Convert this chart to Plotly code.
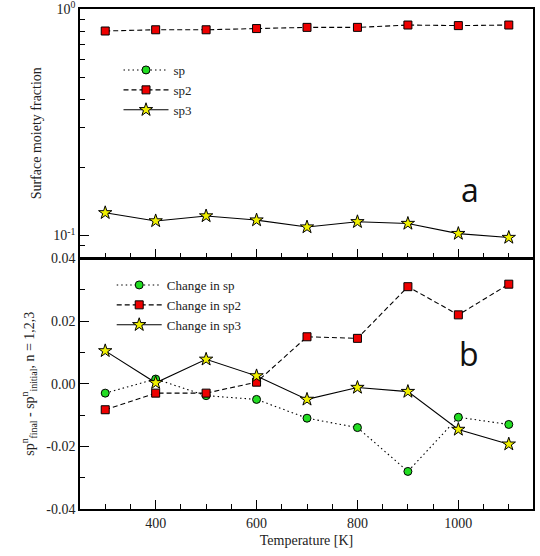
import plotly.graph_objects as go

# Annealing temperatures [K]
temperature = [300, 400, 500, 600, 700, 800, 900, 1000, 1100]

# Panel a: surface moiety fractions (log scale)
frac_sp2 = [0.80, 0.81, 0.81, 0.82, 0.83, 0.83, 0.85, 0.845, 0.85]
frac_sp3 = [0.126, 0.116, 0.122, 0.117, 0.109, 0.115, 0.113, 0.102, 0.098]

# Panel b: change of each moiety fraction relative to the initial state
delta_sp = [-0.003, 0.0015, -0.0038, -0.005, -0.011, -0.014, -0.028, -0.0107, -0.013]
delta_sp2 = [-0.0083, -0.003, -0.003, 0.0005, 0.015, 0.0145, 0.031, 0.022, 0.0318]
delta_sp3 = [0.0105, 0.0003, 0.0078, 0.0025, -0.005, -0.0012, -0.0025, -0.0146, -0.0193]

SERIF = "Liberation Serif"
LINE_W = 1.1

styles = {
    "sp": dict(dash="1.5px,3px", symbol="circle", color="#22dd22", size=8),
    "sp2": dict(dash="5px,3px", symbol="square", color="#ee0000", size=8),
    "sp3": dict(dash="solid", symbol="star", color="#f0f000", size=10),
}


def trace(x, y, key, name, xa, ya, legend):
    s = styles[key]
    return go.Scatter(
        x=x, y=y, name=name, mode="lines+markers",
        xaxis=xa, yaxis=ya, legend=legend,
        line=dict(color="black", width=LINE_W, dash=s["dash"]),
        marker=dict(symbol=s["symbol"], size=s["size"], color=s["color"],
                    line=dict(color="black", width=1)),
    )


fig = go.Figure()

# Top panel (sp has no points inside the plotted range; legend entry only)
fig.add_trace(trace([None], [None], "sp", "sp", "x2", "y", "legend"))
fig.add_trace(trace(temperature, frac_sp2, "sp2", "sp2", "x2", "y", "legend"))
fig.add_trace(trace(temperature, frac_sp3, "sp3", "sp3", "x2", "y", "legend"))

# Bottom panel
fig.add_trace(trace(temperature, delta_sp, "sp", "Change in sp", "x", "y2", "legend2"))
fig.add_trace(trace(temperature, delta_sp2, "sp2", "Change in sp2", "x", "y2", "legend2"))
fig.add_trace(trace(temperature, delta_sp3, "sp3", "Change in sp3", "x", "y2", "legend2"))

axis_common = dict(
    showline=True, linecolor="black", linewidth=1.5, mirror=True,
    ticks="inside", ticklen=9, tickwidth=1, tickcolor="black",
    showgrid=False, zeroline=False, automargin=False,
    ticklabeloverflow="allow",
    tickfont=dict(family=SERIF, size=14, color="#222"),
)

x_range = [250, 1148]
x_minor = dict(ticks="inside", dtick=50, ticklen=5, tickcolor="black", tickwidth=1)

fig.update_layout(
    width=540, height=556,
    margin=dict(l=80, r=7, t=9, b=47),
    paper_bgcolor="white", plot_bgcolor="white",
    showlegend=True,
    xaxis=dict(
        **axis_common, domain=[0, 1], anchor="y2", range=x_range,
        tickvals=[400, 600, 800, 1000], minor=x_minor,
        title=dict(text="Temperature [K]", standoff=6,
                   font=dict(family=SERIF, size=14, color="#222")),
    ),
    xaxis2=dict(
        **axis_common, domain=[0, 1], anchor="y", range=x_range,
        matches="x", tickvals=[400, 600, 800, 1000], showticklabels=False,
        minor=x_minor,
    ),
    yaxis=dict(
        **axis_common, type="log", domain=[0.503, 1], anchor="x2",
        range=[-1.0969, 0.0002],
        tickvals=[0.1, 1.0], ticktext=["10<sup>-1</sup>", "10<sup>0</sup>"],
        minor=dict(ticks="inside", ticklen=5, tickcolor="black", tickwidth=1,
                   tickvals=[0.08, 0.09, 0.2, 0.3, 0.4, 0.5, 0.6, 0.7, 0.8, 0.9]),
        title=dict(text="Surface moiety fraction", standoff=8,
                   font=dict(family=SERIF, size=14, color="#222")),
    ),
    yaxis2=dict(
        **axis_common, domain=[0, 0.501], anchor="x",
        range=[-0.04, 0.04], tickvals=[-0.04, -0.02, 0.0, 0.02, 0.04],
        ticktext=["-0.04", "-0.02", "0.00", "0.02", "0.04"],
        minor=dict(ticks="inside", dtick=0.01, ticklen=5, tickcolor="black", tickwidth=1),
        title=dict(
            text="sp<sup>n</sup><sub>final</sub> - sp<sup>n</sup><sub>initial</sub>, n = 1,2,3",
            standoff=8, font=dict(family=SERIF, size=14, color="#222")),
    ),
    legend=dict(
        x=0.085, y=0.908, xanchor="left", yanchor="top",
        bgcolor="rgba(0,0,0,0)", itemwidth=45, tracegroupgap=0,
        font=dict(family=SERIF, size=13, color="#222"),
    ),
    legend2=dict(
        x=0.07, y=0.478, xanchor="left", yanchor="top",
        bgcolor="rgba(0,0,0,0)", itemwidth=45, tracegroupgap=0,
        font=dict(family=SERIF, size=13, color="#222"),
    ),
    annotations=[
        dict(text="a", xref="paper", yref="paper", x=0.885, y=0.64,
             showarrow=False, font=dict(family="Open Sans", size=32, color="#111")),
        dict(text="b", xref="paper", yref="paper", x=0.885, y=0.265,
             showarrow=False, font=dict(family="Open Sans", size=32, color="#111")),
    ],
)

fig.write_html("out.html")
